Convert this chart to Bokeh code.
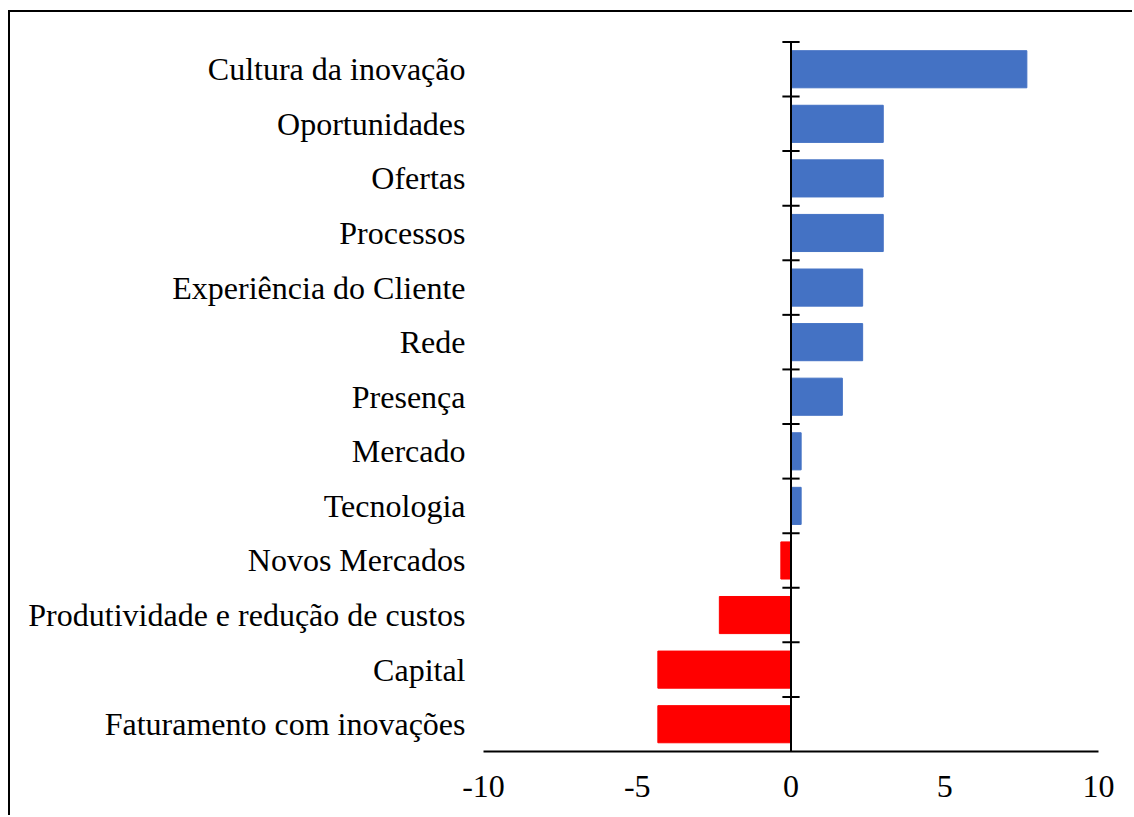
from bokeh.plotting import figure
from bokeh.models import Range1d, FixedTicker, ColumnDataSource
from bokeh.embed import file_html
from bokeh.resources import INLINE

# data (bottom to top)
categories = ["Faturamento com inovações", "Capital", "Produtividade e redução de custos",
              "Novos Mercados", "Tecnologia", "Mercado", "Presença", "Rede",
              "Experiência do Cliente", "Processos", "Ofertas", "Oportunidades",
              "Cultura da inovação"]
values = [-4.33, -4.33, -2.33, -0.33, 0.33, 0.33, 1.67, 2.33, 2.33, 3.0, 3.0, 3.0, 7.67]
x_ticks = [-10, -5, 0, 5, 10]
x_tick_labels = ["-10", "-5", "0", "5", "10"]

BLUE = "#4472C4"
RED = "#FF0000"
FONT = "Liberation Serif"

idx = list(range(len(categories)))
src = ColumnDataSource(dict(y=idx, v=values, cat=categories,
                            c=[BLUE if v > 0 else RED for v in values]))

p = figure(width=1124, height=805,
           x_range=Range1d(-10, 10), y_range=Range1d(-0.5, len(categories) - 0.4),
           output_backend="svg", toolbar_location=None,
           min_border_left=473, min_border_right=36, min_border_top=24, min_border_bottom=66)
p.outline_line_color = None
p.xgrid.visible = False
p.ygrid.visible = False
p.background_fill_color = "white"
p.border_fill_color = "white"
p.styles = {"border-left": "2px solid black", "border-top": "2px solid black",
            "margin-top": "10px", "margin-left": "8px"}

p.hbar(y="y", left=0, right="v", height=0.68, color="c", source=src)

# vertical category axis line at zero with crossing tick marks
p.segment(x0=[0], y0=[-0.5], x1=[0], y1=[len(categories) - 0.5], line_color="black", line_width=2)
bounds = [i + 0.5 for i in idx]
p.segment(x0=[-0.28] * len(bounds), y0=bounds, x1=[0.28] * len(bounds), y1=bounds,
          line_color="black", line_width=2)

xa = p.xaxis[0]
xa.ticker = FixedTicker(ticks=x_ticks)
xa.major_label_overrides = {t: l for t, l in zip(x_ticks, x_tick_labels)}
xa.axis_line_width = 2
xa.axis_line_color = "black"
xa.major_tick_out = 0
xa.major_tick_in = 0
xa.minor_tick_out = 0
xa.minor_tick_in = 0
xa.major_label_standoff = 24
xa.major_label_text_font = FONT
xa.major_label_text_font_size = "32px"
xa.major_label_text_color = "black"

ya = p.yaxis[0]
ya.ticker = FixedTicker(ticks=idx)
ya.major_label_overrides = {i: c for i, c in zip(idx, categories)}
ya.axis_line_color = None
ya.major_tick_out = 0
ya.major_tick_in = 0
ya.minor_tick_out = 0
ya.minor_tick_in = 0
ya.major_label_standoff = 18
ya.major_label_text_font = FONT
ya.major_label_text_font_size = "32px"
ya.major_label_text_color = "black"

open("out.html", "w").write(file_html(p, INLINE))
